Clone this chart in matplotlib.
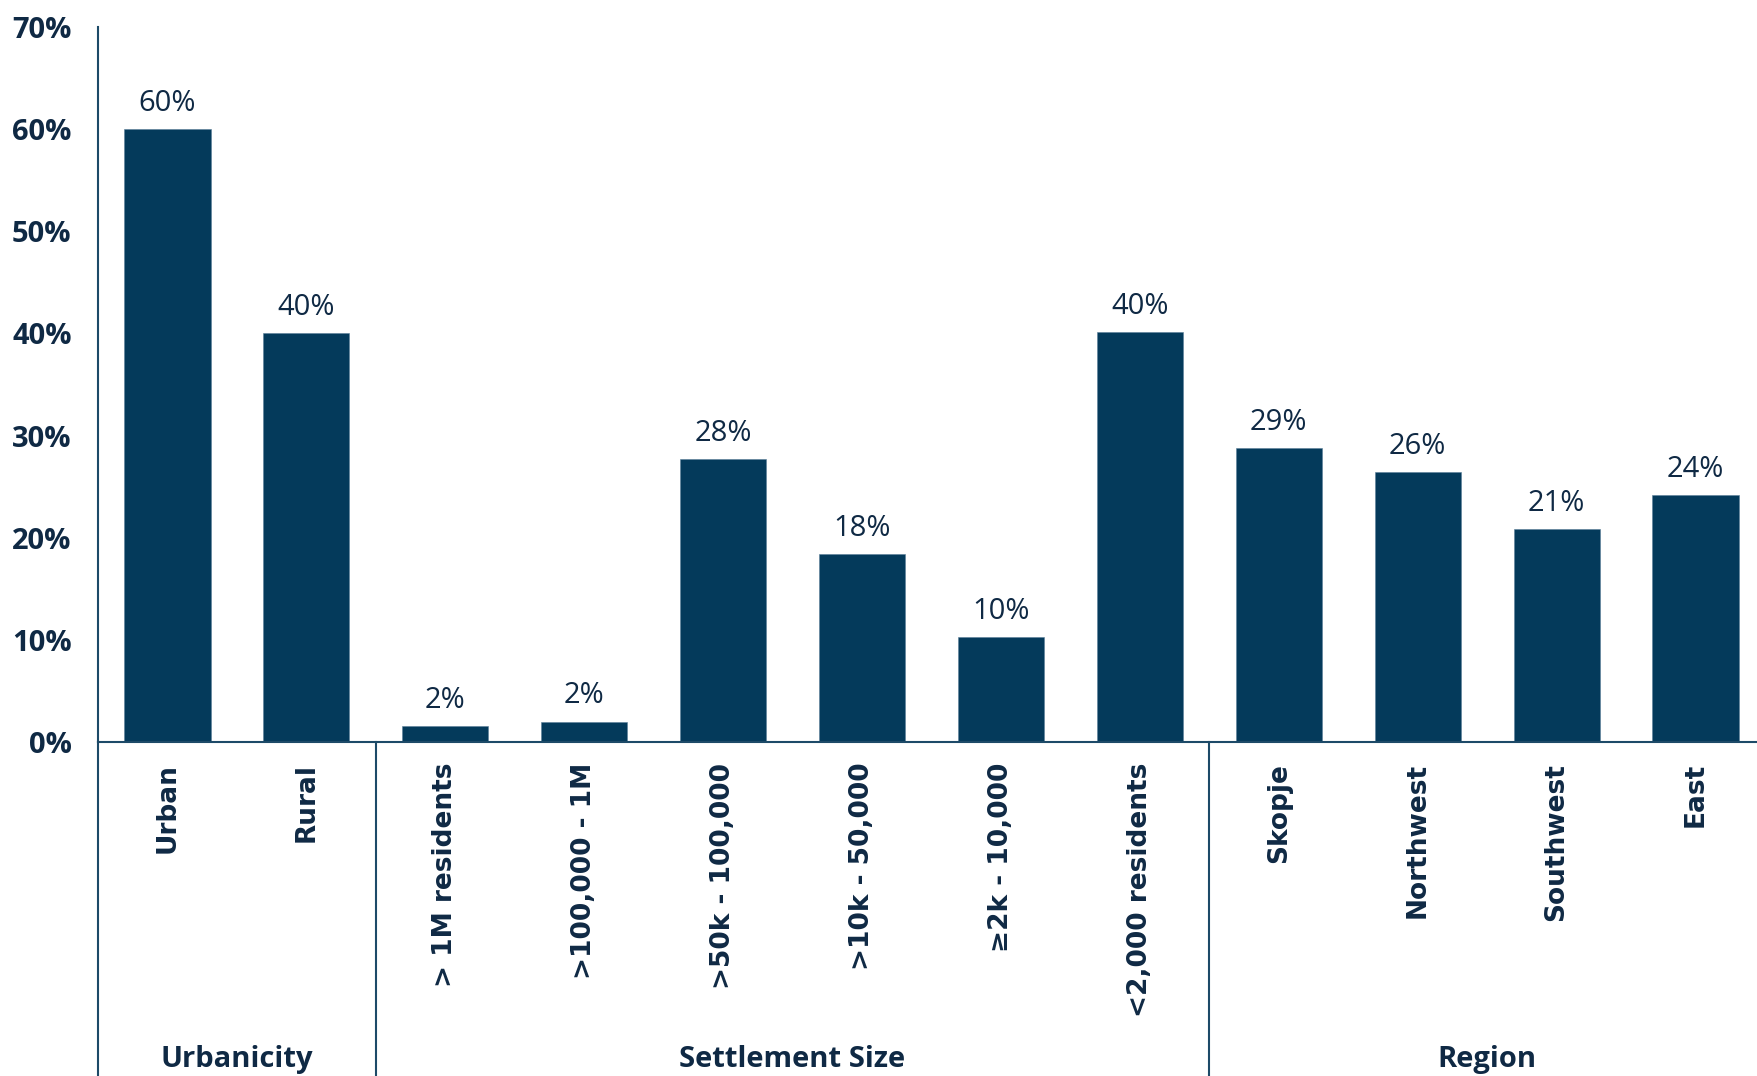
import matplotlib
matplotlib.use("Agg")
import matplotlib.pyplot as plt
from matplotlib.transforms import blended_transform_factory

categories = ["Urban", "Rural",
              "> 1M residents", ">100,000 - 1M", ">50k - 100,000", ">10k - 50,000",
              "\u22652k - 10,000", "<2,000 residents",
              "Skopje", "Northwest", "Southwest", "East"]
values = [60.0, 40.0, 1.6, 2.0, 27.7, 18.4, 10.3, 40.1, 28.8, 26.4, 20.85, 24.15]
value_labels = ["60%", "40%", "2%", "2%", "28%", "18%", "10%", "40%", "29%", "26%", "21%", "24%"]
groups = ["Urbanicity", "Settlement Size", "Region"]
group_sizes = [2, 6, 4]
yticks = [0, 10, 20, 30, 40, 50, 60, 70]
ytick_labels = [f"{t}%" for t in yticks]

BAR = "#043a5b"
TXT = "#0f2944"
LINE = "#1d4a68"

fig = plt.figure(figsize=(17.58, 10.76), dpi=100)
ax = fig.add_axes([98 / 1758, 1 - 742 / 1076, 1 - 98 / 1758, (742 - 27) / 1076])

x = list(range(len(categories)))
ax.bar(x, values, width=0.62, color=BAR, edgecolor="#5a7f99", linewidth=0.4, zorder=2)
ax.set_xlim(-0.5, 11.45)
ax.set_ylim(0, 70)

for xi, v, lab in zip(x, values, value_labels):
    ax.annotate(lab, (xi, v), xytext=(0, 8), textcoords="offset points",
                ha="center", va="bottom", fontsize=21, family="Open Sans", color=TXT)

ax.set_yticks(yticks)
ax.set_yticklabels(ytick_labels, fontsize=21, fontweight="bold", family="Open Sans", color=TXT)
ax.set_xticks(x)
ax.set_xticklabels(categories, rotation=90, fontsize=19, fontweight="bold",
                   family="DejaVu Sans", color=TXT, va="top")
ax.tick_params(axis="y", length=0, pad=19)
ax.tick_params(axis="x", length=0, pad=15)

for s in ["top", "right"]:
    ax.spines[s].set_visible(False)
ax.spines["left"].set_color(LINE)
ax.spines["bottom"].set_color(LINE)
ax.spines["left"].set_linewidth(1.5)
ax.spines["bottom"].set_linewidth(1.5)

trans = blended_transform_factory(ax.transData, ax.transAxes)
ext = -(1076 - 742) / 715 - 0.05
ax.plot([-0.5, -0.5], [0, ext], transform=trans, color=LINE, lw=1.5, clip_on=False)
start = -0.5
centers = []
for i, n in enumerate(group_sizes):
    end = start + n
    centers.append((start + end) / 2)
    if i < len(group_sizes) - 1:
        ax.plot([end, end], [0, ext], transform=trans, color=LINE, lw=1.5, clip_on=False)
    start = end

for c, g in zip(centers, groups):
    ax.text(c, -(1067 - 742) / 715, g, transform=trans, ha="center", va="baseline",
            fontsize=21, fontweight="bold", family="Open Sans", color=TXT)

fig.savefig("out.png", dpi=100)
